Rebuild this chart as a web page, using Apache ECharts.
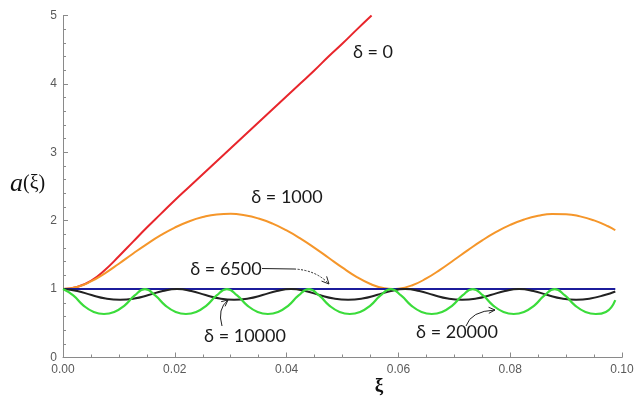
<!DOCTYPE html>
<html><head><meta charset="utf-8">
<script src="https://cdn.jsdelivr.net/npm/echarts@6/dist/echarts.min.js"></script>
<style>html,body{margin:0;padding:0;background:#fff}#c{width:637px;height:399px}</style>
</head><body><div id="c"></div>
<script>
// ---- data ----
const seriesNames = ['δ = 0', 'δ = 1000', 'δ = 6500', 'δ = 10000', 'δ = 20000'];

const xiRed = [0,0.0025,0.005,0.0075,0.01,0.0125,0.015,0.0175,0.02,0.0225,0.025,0.0275,0.03,0.0325,0.035,0.0375,0.04,0.0425,0.045,0.0475,0.05,0.0525,0.0552];
const aRed  = [1,1.03,1.12,1.28,1.48,1.69,1.90,2.10,2.30,2.49,2.68,2.87,3.06,3.25,3.44,3.63,3.82,4.01,4.20,4.40,4.59,4.79,5.0];

const xiOrange = [0,0.0025,0.005,0.0075,0.01,0.0125,0.015,0.0175,0.02,0.0225,0.025,0.0275,0.03,0.0325,0.035,0.0375,0.04,0.0425,0.045,0.0475,0.05,0.0525,0.055,0.0575,0.059,0.06,0.0625,0.065,0.0675,0.07,0.0725,0.075,0.0775,0.08,0.0825,0.085,0.0875,0.09,0.0925,0.095,0.0975,0.0988];
const aOrange  = [1,1.030,1.112,1.231,1.371,1.517,1.658,1.788,1.900,1.989,2.053,2.091,2.100,2.079,2.031,1.957,1.857,1.738,1.603,1.458,1.313,1.180,1.074,1.011,1.0,1.005,1.057,1.156,1.285,1.429,1.574,1.712,1.835,1.939,2.018,2.072,2.099,2.095,2.063,2.004,1.919,1.860];

const xiBlue = [0,0.0988];
const aBlue  = [1,1];

const xiBlack = [0,0.00255,0.0051,0.00765,0.0102,0.01275,0.0153,0.01785,0.0204,0.02295,0.0255,0.02805,0.0306,0.03315,0.0357,0.03825,0.0408,0.04335,0.0459,0.04845,0.051,0.05355,0.0561,0.05865,0.0612,0.06375,0.0663,0.06885,0.0714,0.07395,0.0765,0.07905,0.0816,0.08415,0.0867,0.08925,0.0918,0.09435,0.0969,0.0988];
const aBlack  = [1,0.972,0.913,0.863,0.845,0.863,0.913,0.972,1,0.972,0.913,0.863,0.845,0.863,0.913,0.972,1,0.972,0.913,0.863,0.845,0.863,0.913,0.972,1,0.972,0.913,0.863,0.845,0.863,0.913,0.972,1,0.972,0.913,0.863,0.845,0.863,0.913,0.965];

const xiGreen = [0,0.00183,0.00367,0.0055,0.00733,0.00916,0.011,0.01283,0.01466,0.01649,0.01833,0.02016,0.02199,0.02382,0.02566,0.02749,0.02932,0.03115,0.03299,0.03482,0.03665,0.03848,0.04032,0.04215,0.04398,0.04581,0.04765,0.04948,0.05131,0.05314,0.05498,0.05681,0.05864,0.06047,0.06231,0.06414,0.06597,0.0678,0.06964,0.07147,0.0733,0.07513,0.07697,0.0788,0.08063,0.08246,0.0843,0.08613,0.08796,0.08979,0.09163,0.09346,0.09529,0.09712,0.0988];
const aGreen  = [1,0.907,0.759,0.666,0.636,0.666,0.759,0.907,1,0.907,0.759,0.666,0.636,0.666,0.759,0.907,1,0.907,0.759,0.666,0.636,0.666,0.759,0.907,1,0.907,0.759,0.666,0.636,0.666,0.759,0.907,1,0.907,0.759,0.666,0.636,0.666,0.759,0.907,1,0.907,0.759,0.666,0.636,0.666,0.759,0.907,1,0.907,0.759,0.666,0.636,0.666,0.84];

const xTickValues = [0,0.02,0.04,0.06,0.08,0.10];
const yTickValues = [0,1,2,3,4,5];

// ---- chart ----
const zip = (xs, ys) => xs.map((x, i) => [x, ys[i]]);
const chart = echarts.init(document.getElementById('c'), null, {renderer: 'canvas'});

const axisGray = '#8a8a8a';
const labelGray = '#5a5a5a';

function lineSeries(name, xs, ys, color, w, smooth) {
  return {
    name, type: 'line', data: zip(xs, ys), showSymbol: false, symbol: 'none',
    smooth: smooth, smoothMonotone: null,
    lineStyle: {color, width: w}, itemStyle: {color}, z: 3
  };
}

function arrowHead(x, y, fx, fy, len, ang) {
  const dx = fx - x, dy = fy - y, d = Math.hypot(dx, dy);
  const ux = dx / d, uy = dy / d;
  const c = Math.cos(ang), s = Math.sin(ang);
  const p1 = [x + len * (ux * c - uy * s), y + len * (ux * s + uy * c)];
  const p2 = [x + len * (ux * c + uy * s), y + len * (-ux * s + uy * c)];
  return {type: 'polyline', shape: {points: [p1, [x, y], p2]}, style: {stroke: '#222', lineWidth: 1, fill: null}, z: 10};
}

const textStyle = (txt, x, y) => ({
  type: 'text', x, y, z: 10,
  style: {text: txt, font: '18px Lato', fill: '#1a1a1a', textAlign: 'center', textVerticalAlign: 'middle'}
});

const option = {
  animation: false,
  backgroundColor: '#fff',
  grid: {left: 63, right: 15, top: 15.5, bottom: 41.5, containLabel: false},
  xAxis: {
    type: 'value', min: 0, max: 0.1, interval: 0.02,
    axisLine: {show: true, onZero: false, lineStyle: {color: axisGray, width: 1}},
    axisTick: {show: true, inside: true, length: 5, lineStyle: {color: axisGray}},
    minorTick: {show: true, splitNumber: 4, length: 3, lineStyle: {color: axisGray}},
    axisLabel: {color: labelGray, fontSize: 12, fontFamily: 'Liberation Sans', margin: 6,
      formatter: v => xTickValues.find(t => Math.abs(t - v) < 1e-9) !== undefined ? v.toFixed(2) : ''},
    splitLine: {show: false}
  },
  yAxis: {
    type: 'value', min: 0, max: 5, interval: 1,
    axisLine: {show: true, onZero: false, lineStyle: {color: axisGray, width: 1}},
    axisTick: {show: true, inside: true, length: 5, lineStyle: {color: axisGray}},
    minorTick: {show: true, splitNumber: 5, length: 3, lineStyle: {color: axisGray}},
    axisLabel: {color: labelGray, fontSize: 12, fontFamily: 'Liberation Sans', margin: 6,
      formatter: v => yTickValues.includes(v) ? String(v) : ''},
    splitLine: {show: false}
  },
  series: [
    lineSeries(seriesNames[0], xiRed, aRed, '#e8262c', 2, 0.5),
    lineSeries(seriesNames[1], xiOrange, aOrange, '#f5962a', 2, 0.5),
    lineSeries(seriesNames[2], xiBlue, aBlue, '#1c1c9c', 2, false),
    lineSeries(seriesNames[3], xiBlack, aBlack, '#222222', 2, 0.5),
    lineSeries(seriesNames[4], xiGreen, aGreen, '#3bdc3b', 2.2, 0.5)
  ],
  graphic: [
    // axis titles
    {type: 'text', x: 10, y: 184, z: 10,
      style: {text: '{a|a}{p|(ξ)}', textVerticalAlign: 'middle',
        rich: {a: {fontFamily: 'Liberation Serif', fontStyle: 'italic', fontSize: 26, fill: '#111'},
               p: {fontFamily: 'Liberation Serif', fontSize: 20, fill: '#111'}}}},
    {type: 'text', x: 379, y: 386, z: 10,
      style: {text: 'ξ', font: 'bold 19px "Liberation Serif"', fill: '#111', textAlign: 'center', textVerticalAlign: 'middle'}},
    // curve annotations
    textStyle(seriesNames[0], 373, 52),
    textStyle(seriesNames[1], 287, 197),
    textStyle(seriesNames[2], 226, 269),
    textStyle(seriesNames[3], 245, 336),
    textStyle(seriesNames[4], 457, 332),
    // δ = 6500 arrow
    {type: 'line', shape: {x1: 262, y1: 268.5, x2: 294, y2: 269}, style: {stroke: '#222', lineWidth: 1}, z: 10},
    {type: 'bezierCurve', shape: {x1: 294, y1: 269, cpx1: 316, cpy1: 270, x2: 329, y2: 284}, style: {stroke: '#222', lineWidth: 1, lineDash: [2, 1.5], fill: null}, z: 10},
    arrowHead(329, 284, 316, 270, 8, 0.45),
    // δ = 10000 arrow
    {type: 'bezierCurve', shape: {x1: 222, y1: 326, cpx1: 217, cpy1: 309, x2: 228, y2: 300}, style: {stroke: '#222', lineWidth: 1, fill: null}, z: 10},
    arrowHead(228, 300, 217, 309, 7, 0.45),
    // δ = 20000 arrow
    {type: 'bezierCurve', shape: {x1: 466, y1: 326, cpx1: 471, cpy1: 311, x2: 495, y2: 310}, style: {stroke: '#222', lineWidth: 1, fill: null}, z: 10},
    arrowHead(495, 310, 471, 311, 7, 0.45)
  ]
};
chart.setOption(option);
</script>
</body></html>
